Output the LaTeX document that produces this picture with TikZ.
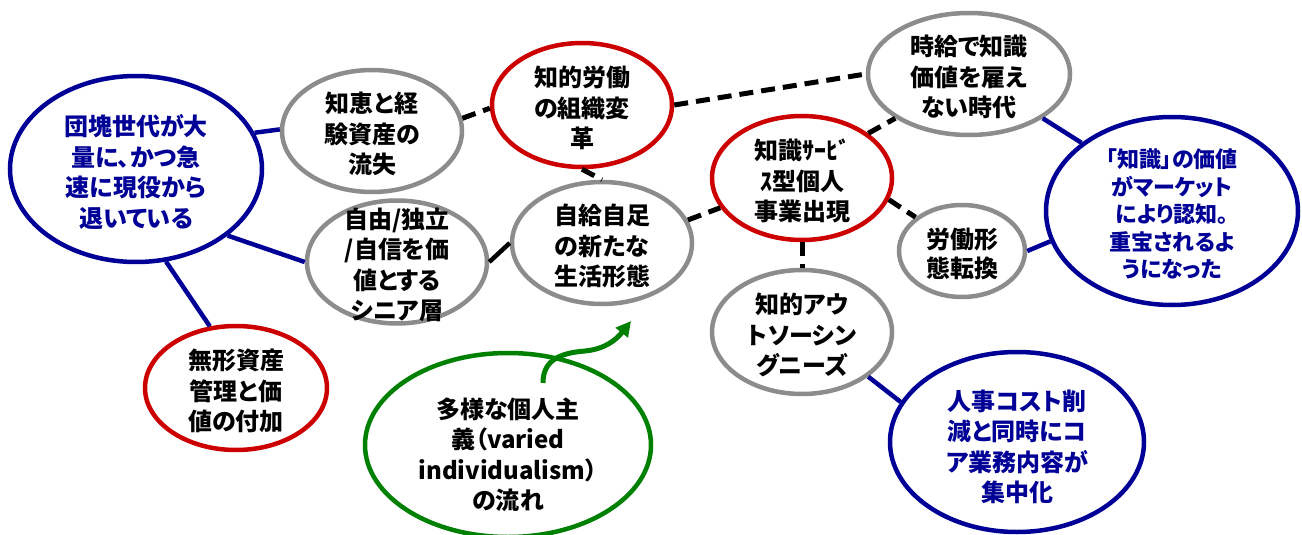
\documentclass[tikz,border=0pt]{standalone}
\usepackage{fontspec}
\setmainfont{Noto Sans CJK JP}[RawFeature=+palt]
\usetikzlibrary{shapes.geometric,arrows.meta}
\definecolor{cblue}{RGB}{0,0,150}
\definecolor{cred}{RGB}{204,0,0}
\definecolor{cgray}{RGB}{140,140,140}
\definecolor{cgreen}{RGB}{0,128,0}
\begin{document}
\begin{tikzpicture}[x=1pt,y=-1pt,
  bub/.style args={#1/#2}{ellipse, draw, line width=4.5pt, inner sep=0pt, minimum width=#1pt, minimum height=#2pt},
  txt/.style={font=\fontsize{24}{30.5}\selectfont\bfseries, align=center, inner sep=0pt, yshift=-3pt, text=black},
  txtb/.style={txt, text=cblue},
  bline/.style={draw=cblue, line width=4.5pt},
  kline/.style={draw=black, line width=4.5pt},
  dline/.style={draw=black, line width=5pt, dash pattern=on 14pt off 8pt},
  gline/.style={draw=cgreen, line width=5pt}
]
\useasboundingbox (0,0) rectangle (1302,535);

% bubbles
\node[bub=252/186, draw=cblue] (A) at (136,169) {};
\node[bub=180/122, draw=cgray] (B) at (372,131) {};
\node[bub=180/123, draw=cgray] (C) at (397,262) {};
\node[bub=180/124, draw=cred] (D) at (582,105) {};
\node[bub=180/122, draw=cgray] (E) at (602,243) {};
\node[bub=180/124, draw=cred] (F) at (802,178) {};
\node[bub=202/122, draw=cgray] (G) at (969,74) {};
\node[bub=252/188, draw=cblue] (H) at (1172,211) {};
\node[bub=126/92, draw=cgray] (I) at (962,251) {};
\node[bub=180/124, draw=cgray] (J) at (802,332) {};
\node[bub=254/180, draw=cblue] (K) at (1017,442) {};
\node[bub=182/124, draw=cred] (L) at (236,388) {};
\node[bub=286/184, draw=cgreen] (M) at (508,445) {};

% connectors
\draw[bline] (A.17) -- (B.179);
\draw[bline] (A.-36) -- (C.180);
\draw[bline] (A.-72) -- (L.113);
\draw[dline] (B.8) -- (D.182);
\draw[dline] (D.0) -- (G.180);
\draw[dline] (D.-90) -- (E.90);
\draw[kline] (C.0) -- (E.180);
\draw[dline] (E.15) -- (F.200);
\draw[dline] (F.34) -- (G.211);
\draw[dline] (F.-14) -- (I.144);
\draw[dline] (F.-90) -- (J.90);
\draw[bline] (G.-31) -- (H.143);
\draw[bline] (I.0) -- (H.194);
\draw[bline] (J.-34) -- (K.161);

% green arrow
\coordinate (arrS) at (543,383);
\coordinate (arrE) at (631,321);
\draw[gline, -{Triangle[length=15pt,width=15pt]}] (arrS) .. controls (543,360) and (560,353) .. (585,351) .. controls (605,349) and (616,340) .. (arrE);

% texts
\node[txtb] (At) at (A) {団塊世代が大\\量に、かつ急\\速に現役から\\退いている};
\node[txt] (Bt) at (B) {知恵と経\\験資産の\\流失};
\node[txt] (Ct) at (C) {自由/独立\\/自信を価\\値とする\\シニア層};
\node[txt] (Dt) at (D) {知的労働\\の組織変\\革};
\node[txt] (Et) at (E) {自給自足\\の新たな\\生活形態};
\node[txt] (Ft) at (F) {知識ｻｰﾋﾞ\\ｽ型個人\\事業出現};
\node[txt] (Gt) at (G) {時給で知識\\価値を雇え\\ない時代};
\node[txtb, font=\fontsize{22}{27.5}\selectfont\bfseries] (Ht) at (H) {「知識」の価値\\がマーケット\\により認知。\\重宝されるよ\\うになった};
\node[txt, font=\fontsize{24}{29}\selectfont\bfseries] (It) at (I) {労働形\\態転換};
\node[txt] (Jt) at (J) {知的アウ\\トソーシン\\グニーズ};
\node[txtb, yshift=-2pt] (Kt) at (K) {人事コスト削\\減と同時にコ\\ア業務内容が\\集中化};
\node[txt] (Lt) at (L) {無形資産\\管理と価\\値の付加};
\node[txt, yshift=-7pt] (Mt) at (M) {多様な個人主\\義（varied\\individualism）\\の流れ};
\end{tikzpicture}
\end{document}
